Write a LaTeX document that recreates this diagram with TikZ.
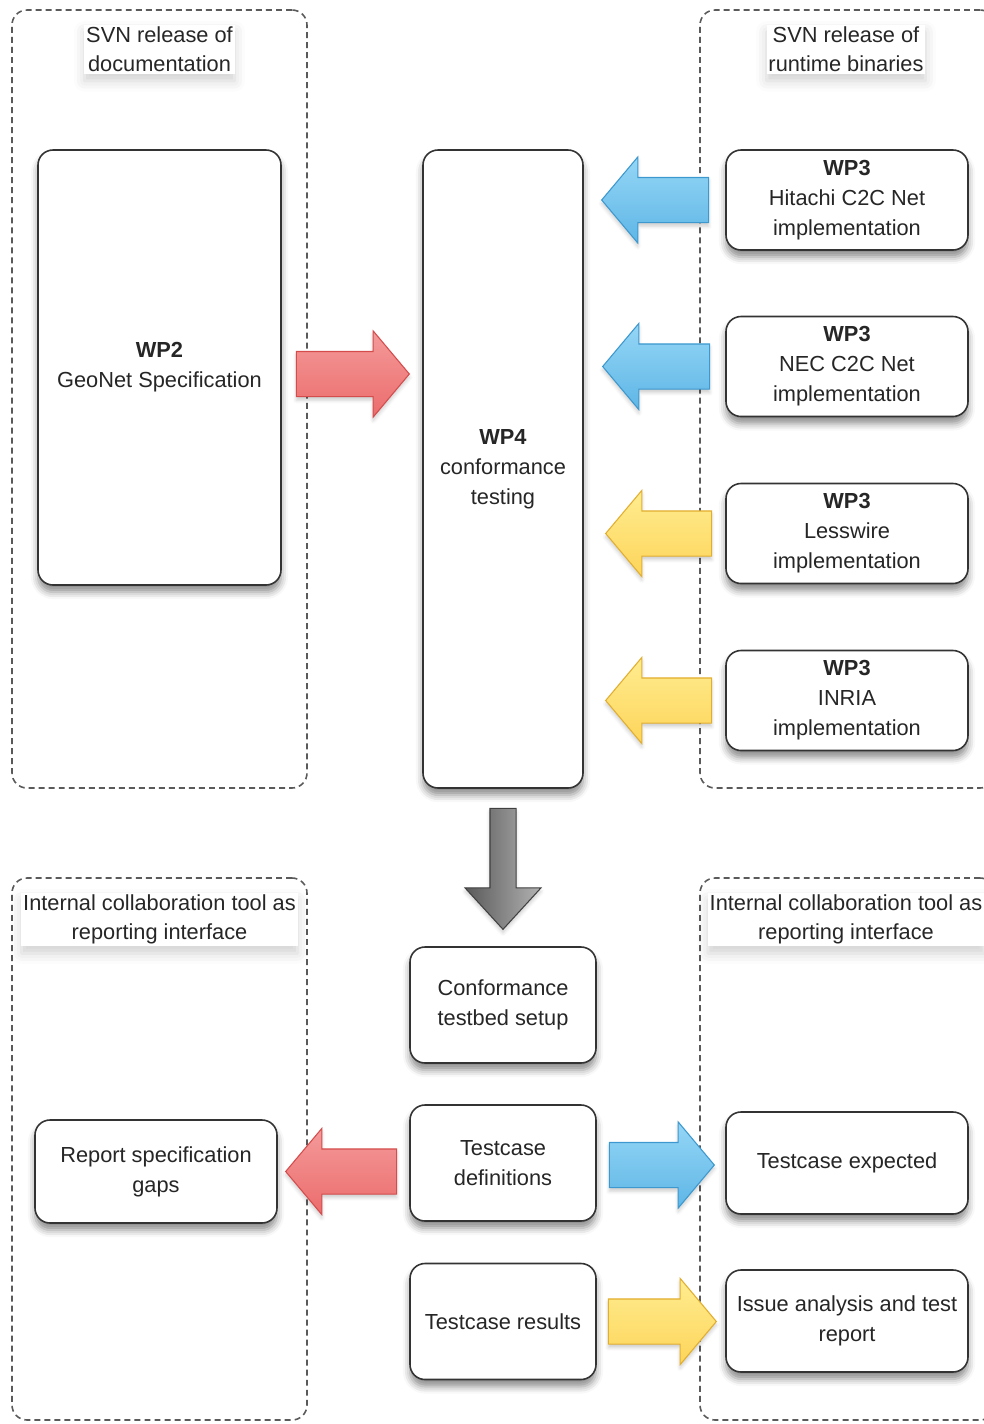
\documentclass[tikz,border=0pt]{standalone}
\usepackage{fontspec}
\setmainfont{Liberation Sans}
\usetikzlibrary{positioning,calc,shapes.arrows,shadows.blur}
\definecolor{textdark}{HTML}{262626}
\definecolor{grpline}{HTML}{5A5A5A}
\definecolor{redtop}{HTML}{F49A9A}
\definecolor{redbot}{HTML}{EC6C6C}
\definecolor{redline}{HTML}{D44C4C}
\definecolor{bluetop}{HTML}{95D6F6}
\definecolor{bluebot}{HTML}{5EB6E6}
\definecolor{blueline}{HTML}{3C98CE}
\definecolor{yeltop}{HTML}{FFEC90}
\definecolor{yelbot}{HTML}{FDD55A}
\definecolor{yelline}{HTML}{E2AE2E}

\begin{document}
\begin{tikzpicture}[
  box/.style={rounded corners=0.3cm,draw=black!80,line width=0.9pt,fill=white,
    align=center,text=textdark,font=\fontsize{12.4}{17}\selectfont,
    blur shadow={shadow xshift=0pt,shadow yshift=-4pt,shadow blur radius=4pt,shadow opacity=45}},
  wpbox/.style={box,minimum width=4.84cm,minimum height=2.0cm},
  midbox/.style={box,minimum width=3.72cm,minimum height=2.32cm},
  grp/.style={rounded corners=0.3cm,draw=grpline,dash pattern=on 3.4pt off 2.3pt,line width=0.9pt},
  grptitle/.style={align=center,fill=white,inner sep=1pt,text=textdark,
    font=\fontsize{12.4}{17}\selectfont,
    blur shadow={shadow xshift=0pt,shadow yshift=-4pt,shadow blur radius=6pt,shadow opacity=18}},
  fatarrow/.style={single arrow,single arrow head extend=0.41cm,single arrow tip angle=100,
    single arrow head indent=0pt,inner xsep=0pt,inner ysep=0.44cm,minimum height=2.2cm,
    line width=0.6pt,
    blur shadow={shadow xshift=0pt,shadow yshift=-2pt,shadow blur radius=2pt,shadow opacity=20}},
  redarr/.style={fatarrow,draw=redline,top color=redtop,bottom color=redbot},
  bluearr/.style={fatarrow,draw=blueline,top color=bluetop,bottom color=bluebot},
  yelarr/.style={fatarrow,draw=yelline,top color=yeltop,bottom color=yelbot}]

\useasboundingbox (0,0) rectangle (19.68,-28.48);

% dashed groups
\node[grp,minimum width=5.9cm,minimum height=15.56cm] (docgrp) at (3.19,-7.98) {};
\node[grp,minimum width=5.9cm,minimum height=15.56cm] (bingrp) at (16.95,-7.98) {};
\node[grp,minimum width=5.9cm,minimum height=10.84cm] (repgrpl) at (3.19,-22.98) {};
\node[grp,minimum width=5.9cm,minimum height=10.84cm] (repgrpr) at (16.95,-22.98) {};

\node[grptitle,below=0.3cm of docgrp.north] (doctitle) {SVN release of\\documentation};
\node[grptitle,below=0.3cm of bingrp.north,xshift=-0.03cm] (bintitle) {SVN release of\\runtime binaries};
\node[grptitle,below=0.3cm of repgrpl.north] (repltitle) {Internal collaboration tool as\\reporting interface};
\node[grptitle,below=0.3cm of repgrpr.north,xshift=-0.03cm] (reprtitle) {Internal collaboration tool as\\reporting interface};

% work packages
\node[box,minimum width=4.86cm,minimum height=8.7cm] (wp2) at (3.19,-7.35) {\textbf{WP2}\\GeoNet Specification};
\node[box,minimum width=3.2cm,minimum height=12.76cm] (wp4) at (10.06,-9.38) {\textbf{WP4}\\conformance\\testing};
\node[wpbox] (hitachi) at (16.94,-4.0) {\textbf{WP3}\\Hitachi C2C Net\\implementation};
\node[wpbox] (nec) at (16.94,-7.33) {\textbf{WP3}\\NEC C2C Net\\implementation};
\node[wpbox] (lesswire) at (16.94,-10.67) {\textbf{WP3}\\Lesswire\\implementation};
\node[wpbox] (inria) at (16.94,-14.01) {\textbf{WP3}\\INRIA\\implementation};

% testing steps
\node[midbox] (setup) at (10.06,-20.1) {Conformance\\testbed setup};
\node[midbox] (defs) at (10.06,-23.26) {Testcase\\definitions};
\node[midbox] (results) at (10.06,-26.43) {Testcase results};
\node[wpbox,minimum height=2.06cm] (gaps) at (3.12,-23.43) {Report specification\\gaps};
\node[wpbox,minimum height=2.04cm] (expected) at (16.94,-23.26) {Testcase expected};
\node[wpbox,minimum height=2.04cm] (issue) at (16.94,-26.42) {Issue analysis and test\\report};

% block arrows
\node[redarr,minimum height=2.26cm,anchor=tail] (a1) at ($(wp2.east)+(0.28,-0.13)$) {};
\node[bluearr,minimum height=2.14cm,shape border rotate=180,anchor=tail] (a2) at ($(hitachi.west)+(-0.32,0)$) {};
\node[bluearr,minimum height=2.14cm,shape border rotate=180,anchor=tail] (a3) at ($(nec.west)+(-0.3,0)$) {};
\node[yelarr,minimum height=2.12cm,shape border rotate=180,anchor=tail] (a4) at ($(lesswire.west)+(-0.26,0)$) {};
\node[yelarr,minimum height=2.12cm,shape border rotate=180,anchor=tail] (a5) at ($(inria.west)+(-0.26,0)$) {};
\node[fatarrow,rotate=-90,anchor=tail,inner ysep=0.25cm,single arrow head extend=0.5cm,single arrow tip angle=85,
  minimum height=2.42cm,draw=black!75,left color=black!65,right color=black!30] (a6)
  at ($(wp4.south)+(0,-0.38)$) {};
\node[redarr,minimum height=2.22cm,shape border rotate=180,anchor=tail] (a7) at ($(defs.west)+(-0.24,-0.17)$) {};
\node[bluearr,minimum height=2.1cm,anchor=tail] (a8) at ($(defs.east)+(0.24,-0.04)$) {};
\node[yelarr,minimum height=2.16cm,anchor=tail] (a9) at ($(results.east)+(0.22,0)$) {};
\end{tikzpicture}
\end{document}
